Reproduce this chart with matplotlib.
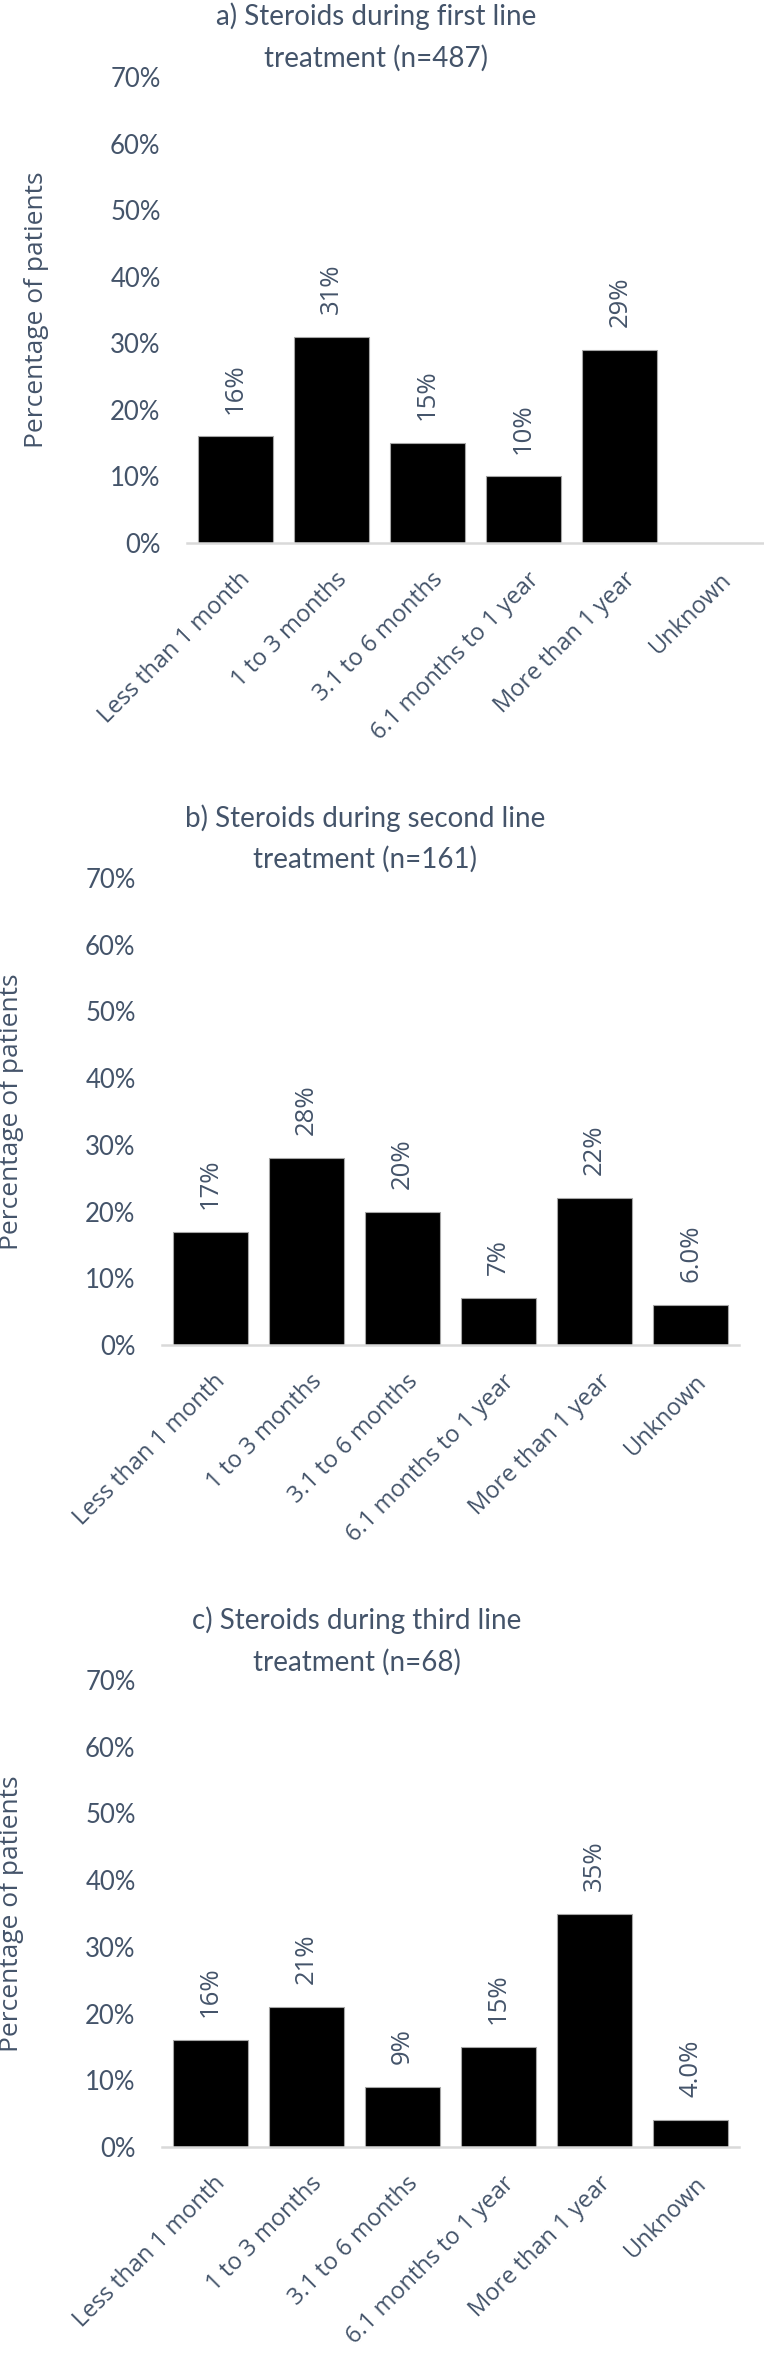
import matplotlib
matplotlib.use('Agg')
import matplotlib.pyplot as plt
import matplotlib.transforms as mtrans
import numpy as np

# ---------------- data ----------------
categories = ["Less than 1 month", "1 to 3 months", "3.1 to 6 months",
              "6.1 months to 1 year", "More than 1 year", "Unknown"]
first_line = [16, 31, 15, 10, 29, np.nan]
second_line = [17, 28, 20, 7, 22, 6.0]
third_line = [16, 21, 9, 15, 35, 4.0]
label_decimals = [0, 0, 0, 0, 0, 1]
title_lines = [["a) Steroids during first line", "treatment (n=487)"],
               ["b) Steroids during second line", "treatment (n=161)"],
               ["c) Steroids during third line", "treatment (n=68)"]]
y_ticks = [0, 10, 20, 30, 40, 50, 60, 70]
y_label = "Percentage of patients"

# ---------------- layout (pixels) ----------------
W, H = 764, 2356
TXT = '#44546A'
panels = [
    dict(vals=first_line, left=187, right=764, y0=543, ytop=77, tcx=376, tb=(25, 67), ylx=37),
    dict(vals=second_line, left=162, right=739, y0=1345, ytop=878, tcx=365, tb=(827, 868), ylx=12),
    dict(vals=third_line, left=162, right=739, y0=2147, ytop=1680, tcx=357, tb=(1629, 1671), ylx=12),
]

fig = plt.figure(figsize=(W / 100, H / 100), dpi=100)
fig.patch.set_facecolor('white')

for p, tl in zip(panels, title_lines):
    ax = fig.add_axes([p['left'] / W, 1 - p['y0'] / H,
                       (p['right'] - p['left']) / W, (p['y0'] - p['ytop']) / H])
    x = np.arange(len(categories))
    vals = np.array(p['vals'], dtype=float)
    ax.bar(x, np.nan_to_num(vals), width=0.78, color='black',
           edgecolor='#a6a6a6', linewidth=0.8, zorder=2)
    ax.set_xlim(-0.5, len(categories) - 0.5)
    ax.set_ylim(0, 70)
    ax.set_yticks(y_ticks)
    ax.set_yticklabels([f"{t}%" for t in y_ticks], family='Lato', fontsize=18.5, color=TXT)
    ax.tick_params(axis='y', length=0, pad=19)
    ax.set_xticks(x)
    ax.set_xticklabels(categories, rotation=45, ha='right', va='center',
                       rotation_mode='anchor', family='Open Sans', fontsize=17, color=TXT)
    ax.tick_params(axis='x', length=0, pad=24)
    off = mtrans.ScaledTranslation(0.12, 0, fig.dpi_scale_trans)
    for lab in ax.get_xticklabels():
        lab.set_transform(lab.get_transform() + off)
    for s in ['top', 'right', 'left']:
        ax.spines[s].set_visible(False)
    ax.spines['bottom'].set_color('#d9d9d9')
    ax.spines['bottom'].set_linewidth(1.8)
    ax.spines['bottom'].set_zorder(3)
    ax.set_facecolor('none')
    for xi, v, d in zip(x, vals, label_decimals):
        if np.isnan(v):
            continue
        ax.annotate(f"{v:.{d}f}%", (xi, v), xytext=(0, 16.5), textcoords='offset points',
                    rotation=90, ha='center', va='bottom', family='Open Sans',
                    fontsize=18.5, color=TXT)
    # title lines
    for line, base in zip(tl, p['tb']):
        fig.text(p['tcx'] / W, 1 - base / H, line, ha='center', va='baseline',
                 family='Lato', fontsize=20, color=TXT)
    # y label
    fig.text(p['ylx'] / W, 1 - (p['y0'] + p['ytop']) / 2 / H, y_label, rotation=90,
             ha='center', va='center', family='Open Sans', fontsize=19, color=TXT)

fig.savefig('out.png', dpi=100, facecolor='white')
